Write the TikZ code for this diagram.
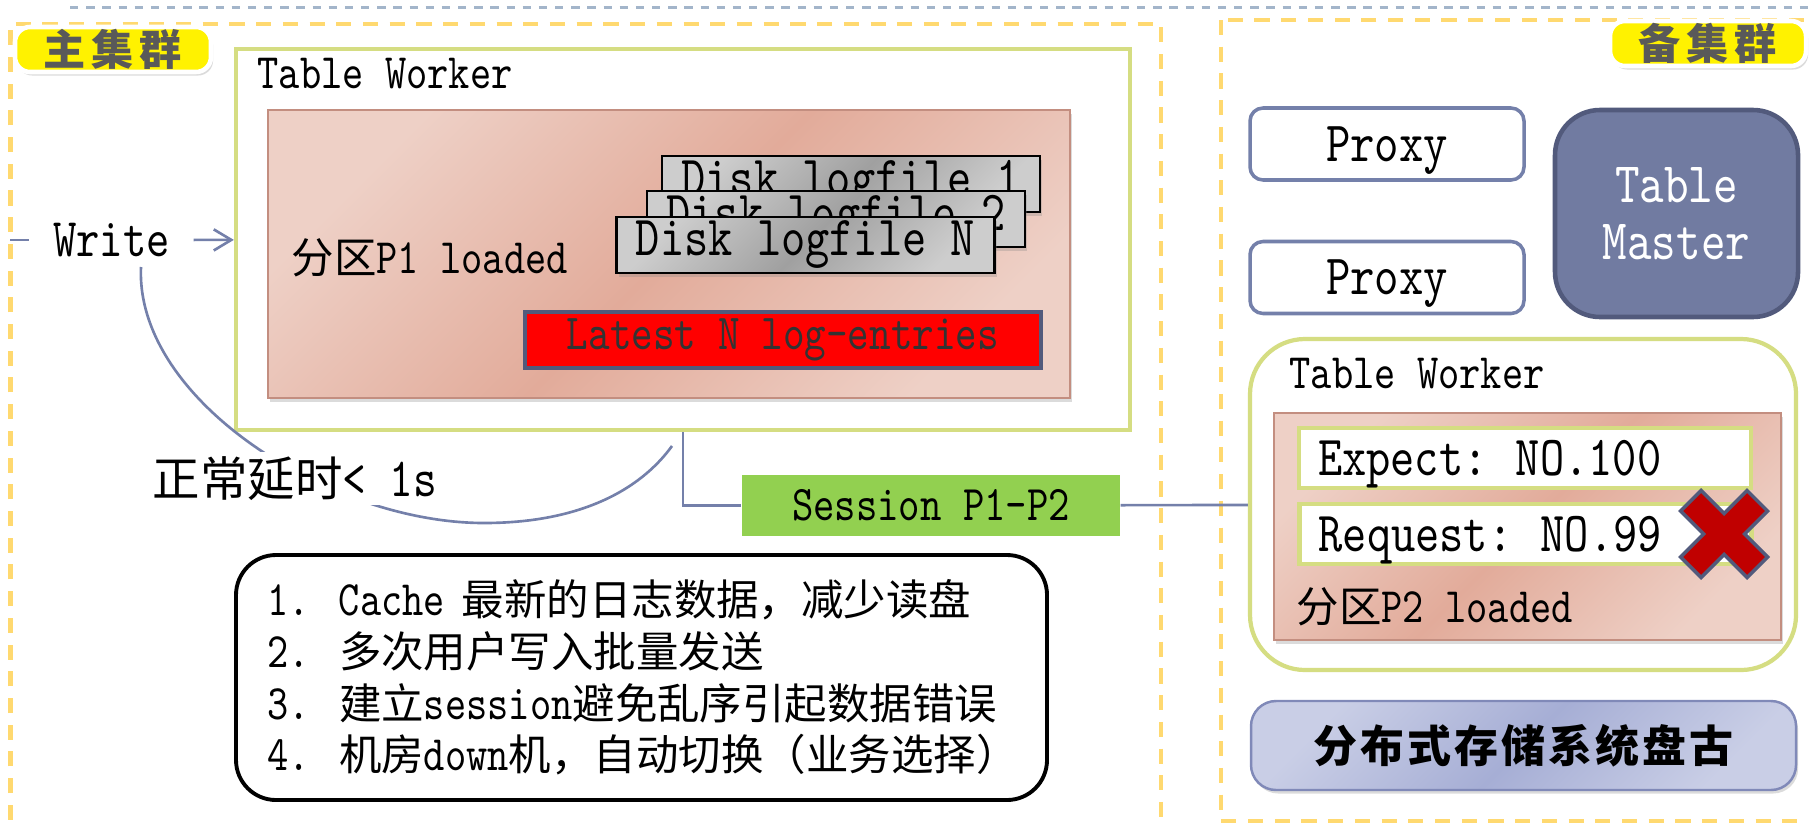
\documentclass[tikz,border=0pt]{standalone}
\usepackage{fontspec}
\setmainfont{lmmono10-regular.otf}[FakeStretch=0.816]
\newfontfamily\cjk{Noto Sans CJK SC}[Scale=0.857]
\usepackage{xcolor}
\usepackage{tikz}
\usetikzlibrary{arrows.meta,shadows}

\definecolor{gridgray}{HTML}{A3B5CA}
\definecolor{cluyel}{HTML}{FFD970}
\definecolor{tagtxt}{HTML}{595959}
\definecolor{twline}{HTML}{D5DD82}
\definecolor{pinkL}{HTML}{EED0C6}
\definecolor{pinkD}{HTML}{E2AB9A}
\definecolor{pinkE}{HTML}{C38E80}
\definecolor{diskL}{HTML}{CDCDCD}
\definecolor{diskD}{HTML}{A0A0A0}
\definecolor{slate}{HTML}{7480AA}
\definecolor{slateD}{HTML}{525A7C}
\definecolor{sessg}{HTML}{92D050}
\definecolor{tmfill}{HTML}{717BA1}
\definecolor{xred}{HTML}{C00000}
\definecolor{panL}{HTML}{C9CEE6}
\definecolor{panD}{HTML}{A6AED5}
\definecolor{panE}{HTML}{8089B8}

\newcommand{\zh}[1]{{\cjk #1}}
\newcommand{\lnum}[1]{\makebox[7.2mm][l]{#1}}

\begin{document}
\begin{tikzpicture}[x=1mm, y=-1mm, >={Straight Barb[length=5pt,width=6pt]},
  shd/.style={drop shadow={shadow xshift=0.6pt, shadow yshift=-1pt, opacity=0.28}},
  clu/.style={draw=cluyel, line width=1.3pt, dash pattern=on 4.3pt off 3.3pt},
  tag/.style={rectangle, rounded corners=1.5mm, fill=yellow, draw=white, line width=1.3pt, minimum width=19.6mm, minimum height=4.5mm, inner sep=0pt, text=tagtxt, font=\fontsize{14pt}{14pt}\cjk\bfseries\addfontfeature{LetterSpace=14}, shd},
  lbl/.style={inner sep=0pt, font=\fontsize{14.1pt}{16pt}\selectfont},
  tw/.style={rectangle, draw=twline, line width=1.2pt, fill=white},
  part/.style={rectangle, draw=pinkE, line width=0.7pt, left color=pinkL, right color=pinkL, middle color=pinkD, shading angle=45, shd},
  disk/.style={rectangle, draw=black, line width=0.7pt, left color=diskL, right color=diskL, middle color=diskD, shading angle=45, minimum width=37.8mm, minimum height=5.6mm, inner sep=0pt, font=\fontsize{16.1pt}{16pt}\selectfont, shd},
  latest/.style={rectangle, fill=red, draw=slateD, line width=1pt, minimum width=51.6mm, minimum height=5.6mm, inner sep=0pt, text=black!80, font=\fontsize{14.35pt}{16pt}\selectfont},
  link/.style={draw=slate, line width=0.75pt},
  sess/.style={rectangle, fill=sessg, minimum width=37.8mm, minimum height=6.1mm, inner sep=0pt, font=\fontsize{14.2pt}{16pt}\selectfont},
  note/.style={rectangle, draw=black, line width=1.1pt, rounded corners=4mm, fill=white, minimum width=81.1mm, minimum height=24.5mm, text width=74.9mm, inner xsep=3.1mm, align=left, font=\fontsize{14.1pt}{14.7pt}\selectfont},
  proxy/.style={rectangle, draw=slate, line width=1pt, rounded corners=1.3mm, fill=white, minimum width=27.4mm, minimum height=7.2mm, text depth=0pt, font=\fontsize{16.2pt}{18pt}\selectfont},
  master/.style={rectangle, draw=slateD, line width=1.3pt, rounded corners=4.5mm, fill=tmfill, text=white, align=center, minimum width=24.3mm, minimum height=20.7mm, font=\fontsize{16.3pt}{16.2pt}\selectfont},
  chk/.style={rectangle, draw=twline, line width=1.2pt, fill=white, minimum width=45.2mm, minimum height=6mm, text width=41.4mm, inner xsep=1.9mm, align=left, text depth=0pt, font=\fontsize{16.1pt}{16pt}\selectfont},
  xmark/.style={fill=xred, draw=slateD, line width=1pt, line join=miter},
  pangu/.style={rectangle, draw=panE, line width=0.7pt, rounded corners=2.5mm, left color=panL, right color=panL, middle color=panD, shading angle=45, minimum width=54.5mm, minimum height=8.9mm, font=\fontsize{14.6pt}{14.6pt}\cjk\bfseries\addfontfeature{LetterSpace=7}, shd}]
\useasboundingbox (0,0) rectangle (180.9,82.3);
\clip (0,0) rectangle (180.9,82.3);
\fill[white] (0,0) rectangle (180.9,82.3);

\draw[gridgray, line width=0.7pt, dash pattern=on 2.4pt off 2.2pt] (7,0.75) -- (180.9,0.75);
\draw[clu] (1.03,90) |- (116.1,2.4) -- (116.1,90);
\draw[clu] (122.1,2.0) rectangle (190,82.1);
\node[tag] (main) at (11.3,4.95) {主集群};
\node[tag] (backup) at (170.8,4.35) {备集群};

\node[tw, minimum width=89.4mm, minimum height=38.1mm] (tw1) at (68.3,23.95) {};
\node[lbl, anchor=base west] (tw1t) at (25.7,8.83) {Table Worker};
\node[part, minimum width=80.2mm, minimum height=28.8mm] (p1) at (66.9,25.4) {};
\node[lbl, anchor=base west] (p1t) at (29.1,27.3) {\zh{分区}P1 loaded};
\node[disk] (d1) at (85.1,18.4) {Disk logfile 1};
\node[disk] (d2) at (83.6,21.9) {Disk logfile 2};
\node[disk] (dn) at (80.55,24.5) {Disk logfile N};
\node[latest] (cache) at (78.3,34.0) {Latest N log-entries};

\node[inner xsep=2.3mm, font=\fontsize{15.5pt}{18pt}\selectfont] (write) at (11.15,24.0) {Write};
\coordinate (wsrc) at (1.03,24.0);
\draw[link] (wsrc) -- (write);
\draw[link, ->] (write) -- (tw1);

\coordinate (lat0) at (14.1,26.7);
\coordinate (lat1) at (48.4,52.3);
\coordinate (lat2) at (67.2,44.6);
\draw[link] (lat0) .. controls (13.5,40) and (33,52.3) .. (lat1) .. controls (58,52.3) and (64,49) .. (lat2);
\node[fill=white, inner xsep=1mm, inner ysep=0.4mm, font=\fontsize{15.75pt}{18pt}\selectfont] (lat) at (29.5,47.85) {\zh{正常延时}< 1s};

\node[sess] (sess) at (93.1,50.55) {Session P1-P2};
\draw[link] (tw1.south) |- (sess.west);

\node[note] (notes) at (64.15,67.75) {\lnum{1.}Cache \zh{最新的日志数据，减少读盘}\\
\lnum{2.}\zh{多次用户写入批量发送}\\
\lnum{3.}\zh{建立}session\zh{避免乱序引起数据错误}\\
\lnum{4.}\zh{机房}down\zh{机，自动切换（业务选择）}};

\node[proxy] (px1) at (138.7,14.4) {Proxy};
\node[proxy] (px2) at (138.7,27.75) {Proxy};
\node[master] (tm) at (167.65,21.35) {Table\\Master};

\node[tw, rounded corners=5.5mm, minimum width=54.6mm, minimum height=33.1mm] (tw2) at (152.3,50.45) {};
\draw[link] (sess) -- (tw2);
\node[lbl, anchor=base west] (tw2t) at (128.9,38.8) {Table Worker};
\node[part, minimum width=50.7mm, minimum height=22.7mm] (p2) at (152.75,52.65) {};
\node[chk] (exp) at (152.5,45.8) {Expect: NO.100};
\node[chk] (req) at (152.55,53.4) {Request: NO.99};
\coordinate (xm) at (172.4,53.4);
\draw[xmark, shift={(xm)}, rotate=45] (1.45,1.45) -- (4.7,1.45) -- (4.7,-1.45) -- (1.45,-1.45) -- (1.45,-4.7) -- (-1.45,-4.7) -- (-1.45,-1.45) -- (-4.7,-1.45) -- (-4.7,1.45) -- (-1.45,1.45) -- (-1.45,4.7) -- (1.45,4.7) -- cycle;
\node[lbl, anchor=base west] (p2t) at (129.6,62.2) {\zh{分区}P2 loaded};

\node[pangu] (pangu) at (152.35,74.55) {分布式存储系统盘古};
\end{tikzpicture}
\end{document}
